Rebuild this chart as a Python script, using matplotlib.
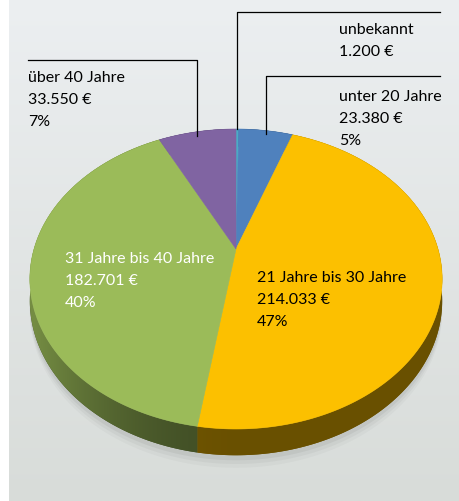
import numpy as np
import matplotlib.pyplot as plt
from matplotlib.patches import Polygon
from matplotlib.colors import to_rgb

# data, clockwise from 12 o'clock
labels = ["unbekannt", "unter 20 Jahre", "21 Jahre bis 30 Jahre",
          "31 Jahre bis 40 Jahre", "über 40 Jahre"]
values = [1200, 23380, 214033, 182701, 33550]
value_text = ["1.200 €", "23.380 €", "214.033 €", "182.701 €", "33.550 €"]
pct_text = ["", "5%", "47%", "40%", "7%"]
colors = ["#4bacc6", "#4f81bd", "#fcc000", "#9bbb59", "#8064a2"]
text_colors = ["black", "black", "black", "white", "black"]

# label anchors (left x, first baseline y) in pixels
label_pos = [(339, 34), (339, 101), (257, 282), (65, 263), (28, 82)]
line_step = 22

# pie geometry (pixels), with a simple perspective
cx, cy = 236, 250
rx, ry = 202, 144
persp = -0.2
depth = 21

W, H = 460, 502
fig = plt.figure(figsize=(W / 100, H / 100), dpi=100)
ax = fig.add_axes([0, 0, 1, 1])
ax.set_xlim(0, W)
ax.set_ylim(H, 0)
ax.axis("off")

# background panel with soft vertical gradient
top_c = np.array(to_rgb("#eceff1"))
bot_c = np.array(to_rgb("#d8dcd9"))
g = np.linspace(0, 1, 256)[:, None, None]
grad = top_c * (1 - g) + bot_c * g
ax.imshow(grad, extent=[9, W, H, 0], aspect="auto", zorder=0)


def project(theta, drop=0.0):
    u = np.sin(theta)
    v = -np.cos(theta)
    den = 1 + persp * v
    return cx + rx * u / den, cy + (ry * v + drop) / den


total = float(sum(values))
bounds = np.concatenate([[0], np.cumsum(values)]) / total * 2 * np.pi

# shadow under the pie
tt = np.linspace(0, 2 * np.pi, 300)
for off, a in [(10, 0.05), (7, 0.07), (4, 0.10)]:
    sx, sy = project(tt, depth + off)
    ax.add_patch(Polygon(np.c_[sx, sy], closed=True, fc="#6a6d6a",
                         ec="none", alpha=a, zorder=1))

# sides: horizontal shading image clipped to each slice's side
xs = np.linspace(0, W, 460)
shade = 0.42 + 0.33 * np.clip((cx - xs) / rx, 0, 1) ** 2
for i, c in enumerate(colors):
    base = np.array(to_rgb(c))
    t = np.linspace(bounds[i], bounds[i + 1], max(3, int(400 * values[i] / total)))
    x0, y0 = project(t)
    x1, y1 = project(t, depth)
    pts = np.c_[np.r_[x0, x1[::-1]], np.r_[y0, y1[::-1]]]
    poly = Polygon(pts, closed=True, fc=base * 0.42, ec="none", zorder=2)
    ax.add_patch(poly)
    img = np.clip(base[None, None, :] * shade[None, :, None], 0, 1)
    im = ax.imshow(img, extent=[0, W, H, 0], aspect="auto", zorder=2.1,
                   interpolation="bilinear")
    im.set_clip_path(poly)

# top faces
for i, c in enumerate(colors):
    t = np.linspace(bounds[i], bounds[i + 1], max(3, int(400 * values[i] / total)))
    x, y = project(t)
    pts = np.c_[np.r_[cx, x], np.r_[cy, y]]
    ax.add_patch(Polygon(pts, closed=True, fc=c, ec=c, lw=0.4, zorder=3))

# leader lines
lc = dict(color="black", lw=0.9, zorder=4)
mid = 0.5 * (bounds[:-1] + bounds[1:])
x_u, y_u = project(mid[0])
ax.plot([x_u, x_u, 440], [y_u, 13, 13], **lc)
x_b, y_b = project(mid[1])
ax.plot([x_b, x_b, 440], [y_b + 3, 77, 77], **lc)
x_p, y_p = project(mid[4])
ax.plot([28, x_p, x_p], [61, 61, y_p + 4], **lc)

# labels
for i in range(len(labels)):
    x, y = label_pos[i]
    lines = [labels[i], value_text[i]] + ([pct_text[i]] if pct_text[i] else [])
    for k, s in enumerate(lines):
        ax.text(x, y + k * line_step, s, fontsize=11.5, color=text_colors[i],
                family=["Lato", "DejaVu Sans"],
                va="baseline", ha="left", zorder=5)

fig.savefig("out.png", dpi=100)
